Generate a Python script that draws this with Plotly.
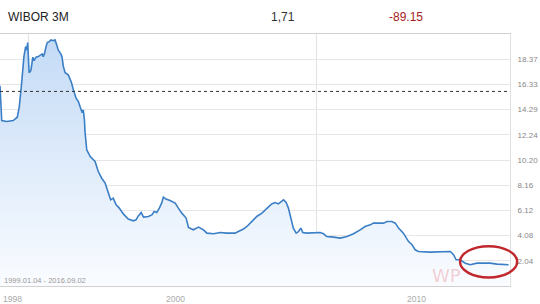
import plotly.graph_objects as go

# fractional years
years = [1999.00, 1999.06, 1999.23, 1999.46, 1999.60, 1999.67, 1999.75, 1999.83, 1999.89, 1999.93,
         1999.96, 1999.98, 2000.01, 2000.07, 2000.14, 2000.18, 2000.25, 2000.33, 2000.39, 2000.46,
         2000.50, 2000.54, 2000.60, 2000.64, 2000.71, 2000.77, 2000.85, 2000.91, 2000.97, 2001.02,
         2001.11, 2001.15, 2001.20, 2001.26, 2001.37, 2001.47, 2001.55, 2001.64, 2001.72, 2001.80,
         2001.85, 2001.89, 2001.93, 2001.95, 2002.01, 2002.13, 2002.18, 2002.30, 2002.41, 2002.53,
         2002.65, 2002.76, 2002.84, 2002.93, 2003.03, 2003.14, 2003.28, 2003.45, 2003.63, 2003.72,
         2003.80, 2003.90, 2003.98, 2004.15, 2004.27, 2004.35, 2004.44, 2004.53, 2004.61, 2004.67,
         2004.76, 2004.90, 2005.08, 2005.19, 2005.31, 2005.46, 2005.54, 2005.71, 2005.89, 2006.06,
         2006.18, 2006.41, 2006.64, 2006.87, 2007.16, 2007.27, 2007.45, 2007.57, 2007.74, 2007.91,
         2008.09, 2008.26, 2008.43, 2008.55, 2008.66, 2008.84, 2008.93, 2009.01, 2009.10, 2009.18,
         2009.28, 2009.36, 2009.44, 2009.51, 2009.65, 2009.88, 2010.11, 2010.23, 2010.34, 2010.57,
         2010.81, 2011.04, 2011.27, 2011.50, 2011.67, 2011.85, 2011.96, 2012.31, 2012.43, 2012.60,
         2012.72, 2012.83, 2013.00, 2013.18, 2013.30, 2013.41, 2013.52, 2013.93, 2014.28, 2014.63,
         2014.74, 2014.83, 2014.97, 2015.15, 2015.32, 2015.55, 2016.01, 2016.25, 2016.65]

wibor = [16.21, 13.40, 13.32, 13.40, 13.67, 14.53, 16.42, 18.58, 19.39, 19.12,
         19.71, 18.31, 17.28, 17.44, 18.53, 18.25, 18.53, 18.58, 18.72, 18.80,
         18.58, 18.80, 19.39, 19.71, 19.79, 19.93, 19.87, 19.93, 19.53, 19.12,
         18.80, 18.58, 17.77, 17.28, 17.10, 16.55, 15.88, 15.21, 14.94, 14.26,
         14.04, 14.26, 13.45, 12.51, 11.03, 10.48, 10.35, 10.08, 9.27, 8.73,
         8.33, 7.52, 6.98, 7.12, 6.57, 6.31, 5.84, 5.42, 5.28, 5.36,
         5.68, 5.95, 5.58, 5.63, 5.76, 6.03, 5.95, 6.31, 6.71, 7.20,
         7.04, 6.92, 6.71, 6.31, 5.90, 5.50, 4.74, 4.55, 4.77, 4.55,
         4.28, 4.23, 4.33, 4.28, 4.28, 4.41, 4.61, 4.82, 5.22, 5.63,
         5.90, 6.31, 6.65, 6.76, 6.65, 6.98, 6.76, 6.31, 5.36, 4.69,
         4.28, 4.41, 4.69, 4.33, 4.28, 4.28, 4.33, 4.23, 4.01, 3.96,
         3.88, 4.01, 4.23, 4.55, 4.82, 4.95, 5.09, 5.09, 5.22, 5.22,
         5.09, 4.69, 4.28, 3.60, 3.34, 2.93, 2.79, 2.74, 2.79, 2.79,
         2.53, 2.12, 2.12, 1.85, 1.72, 1.85, 1.85, 1.77, 1.72]

prev_close = 15.76
y_ticks = [2.04, 4.08, 6.12, 8.16, 10.20, 12.24, 14.29, 16.33, 18.37]
y_tick_text = ["2.04", "4.08", "6.12", "8.16", "10.20", "12.24", "14.29", "16.33", "18.37"]
x_grid = [2000, 2010]
x_labels = ["1998", "2000", "2010"]
x_label_pos = [0.024, 0.345, 0.816]

fig = go.Figure()
fig.add_trace(go.Scatter(
    x=years, y=wibor, mode="lines",
    line=dict(color="#3b7fc6", width=1.6),
    fill="tozeroy",
    fillgradient=dict(type="vertical",
                      colorscale=[[0, "rgba(250,252,255,1)"], [1, "rgba(196,219,246,1)"]]),
    hoverinfo="skip", showlegend=False,
))

fig.add_shape(type="line", xref="paper", yref="y", x0=0, x1=1, y0=prev_close, y1=prev_close,
              line=dict(color="#333333", width=1, dash="dot"))
fig.add_shape(type="circle", xref="paper", yref="paper", x0=0.902, x1=1.014, y0=0.034, y1=0.158,
              line=dict(color="#c0282d", width=2.5))

fig.update_layout(
    width=540, height=304,
    margin=dict(l=0, r=30, t=34, b=18),
    paper_bgcolor="white", plot_bgcolor="white",
    font=dict(family="Arial, Liberation Sans, sans-serif"),
    xaxis=dict(range=[1999.0, 2016.7], tickvals=x_grid, showticklabels=False,
               showgrid=True, gridcolor="#e2e2e2", gridwidth=1, zeroline=False,
               showline=True, linecolor="#d0d0d0", mirror=True, ticks=""),
    yaxis=dict(range=[0, 20.41], tickvals=y_ticks, ticktext=y_tick_text, side="right",
               showgrid=True, gridcolor="#e6e6e6", zeroline=False,
               showline=True, linecolor="#e0e0e0", mirror=True, ticks="",
               tickfont=dict(size=8, color="#888888"), ticklabelstandoff=5),
)

fig.add_annotation(text="WIBOR 3M", xref="paper", yref="paper", x=0.012, y=1.068,
                   xanchor="left", yanchor="middle", showarrow=False,
                   font=dict(size=12, color="#222222"))
fig.add_annotation(text="1,71", xref="paper", yref="paper", x=0.554, y=1.068,
                   xanchor="center", yanchor="middle", showarrow=False,
                   font=dict(size=12, color="#333333"))
fig.add_annotation(text="-89.15", xref="paper", yref="paper", x=0.796, y=1.068,
                   xanchor="center", yanchor="middle", showarrow=False,
                   font=dict(size=12, color="#a51c1c"))
fig.add_annotation(text="1999.01.04 - 2016.09.02", xref="paper", yref="paper", x=0.003, y=0.02,
                   xanchor="left", yanchor="middle", showarrow=False,
                   font=dict(size=7.5, color="#999999"))
fig.add_annotation(text="WP", xref="paper", yref="paper", x=0.875, y=0.04,
                   xanchor="center", yanchor="middle", showarrow=False,
                   font=dict(size=18, color="rgba(225,90,100,0.28)", family="Arial Black, DejaVu Sans"))
for lab, pos in zip(x_labels, x_label_pos):
    fig.add_annotation(text=lab, xref="paper", yref="paper", x=pos, y=-0.05,
                       xanchor="center", yanchor="middle", showarrow=False,
                       font=dict(size=8.5, color="#aaaaaa"))

fig.write_html("out.html")
